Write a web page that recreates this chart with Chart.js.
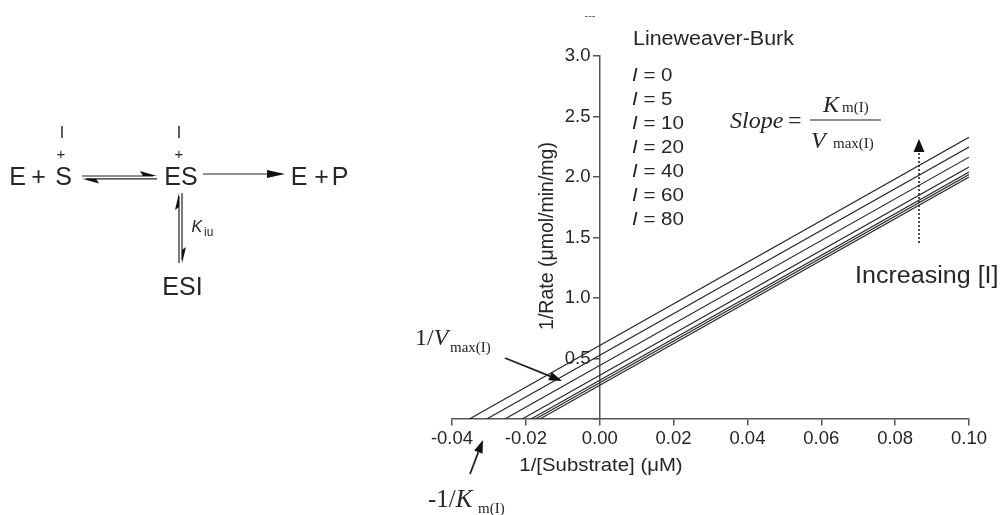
<!DOCTYPE html>
<html>
<head>
<meta charset="utf-8">
<script src="https://cdn.jsdelivr.net/npm/chart.js@4"></script>
<style>
html,body{margin:0;padding:0;background:#fff;}
#wrap{width:1004px;height:515px;position:relative;}
</style>
</head>
<body>
<div id="wrap"><canvas id="c" width="1004" height="515"></canvas></div>
<script>
// ---- data ----
const inhibitorConc = [0, 5, 10, 20, 40, 60, 80];
const xIntercepts = [-0.0162, -0.0174, -0.0186, -0.0210, -0.0257, -0.0306, -0.0353];
const xEnd = 0.10;
const yAtEnd = [2.000, 2.021, 2.041, 2.082, 2.164, 2.247, 2.329];
const xTicks = [-0.04, -0.02, 0.00, 0.02, 0.04, 0.06, 0.08, 0.10];
const yTicks = [0.5, 1.0, 1.5, 2.0, 2.5, 3.0];

const TXT = '#262626';
const AXIS = '#555';
const SANS = '"Liberation Sans", Arial, Helvetica, sans-serif';
const SERIF = '"Liberation Serif", "Times New Roman", serif';

function txt(ctx, s, x, y, font, o) {
  o = o || {};
  ctx.save();
  ctx.font = font;
  ctx.fillStyle = o.color || TXT;
  ctx.textBaseline = o.baseline || 'alphabetic';
  ctx.textAlign = o.align || 'left';
  ctx.translate(x, y);
  if (o.rot) ctx.rotate(o.rot);
  const sx = o.sx || 1;
  ctx.scale(sx, 1);
  ctx.fillText(s, 0, 0);
  const w = ctx.measureText(s).width * sx;
  ctx.restore();
  return w;
}
function line(ctx, x1, y1, x2, y2, w, dash) {
  ctx.save();
  ctx.strokeStyle = '#222';
  ctx.lineWidth = w || 1.2;
  if (dash) ctx.setLineDash(dash);
  ctx.beginPath(); ctx.moveTo(x1, y1); ctx.lineTo(x2, y2); ctx.stroke();
  ctx.restore();
}
function poly(ctx, pts) {
  ctx.save();
  ctx.fillStyle = '#111';
  ctx.beginPath();
  ctx.moveTo(pts[0][0], pts[0][1]);
  for (let i = 1; i < pts.length; i++) ctx.lineTo(pts[i][0], pts[i][1]);
  ctx.closePath(); ctx.fill();
  ctx.restore();
}
function arrow(ctx, x1, y1, x2, y2, hl, hw, w) {
  const a = Math.atan2(y2 - y1, x2 - x1);
  const bx = x2 - hl * Math.cos(a), by = y2 - hl * Math.sin(a);
  line(ctx, x1, y1, bx, by, w || 1.6);
  const px = -Math.sin(a) * hw, py = Math.cos(a) * hw;
  poly(ctx, [[x2, y2], [bx + px, by + py], [bx - px, by - py]]);
}

const annotations = {
  id: 'annotations',
  afterDraw(chart) {
    const ctx = chart.ctx;
    // ---- left reaction scheme ----
    const F25 = '25px ' + SANS;
    txt(ctx, 'E', 17.5, 185, F25, {align: 'center'});
    txt(ctx, '+', 38.5, 185, F25, {align: 'center'});
    txt(ctx, 'S', 63.5, 185, F25, {align: 'center'});
    txt(ctx, 'ES', 181, 185, F25, {align: 'center'});
    txt(ctx, 'E', 299, 185, F25, {align: 'center'});
    txt(ctx, '+', 321.5, 185, F25, {align: 'center'});
    txt(ctx, 'P', 340, 185, F25, {align: 'center'});
    txt(ctx, 'ESI', 182.5, 295, F25, {align: 'center'});
    const F16 = '16px ' + SANS;
    txt(ctx, 'I', 62, 138, F16, {align: 'center'});
    txt(ctx, '+', 61, 159, '15px ' + SANS, {align: 'center'});
    txt(ctx, 'I', 179, 138, F16, {align: 'center'});
    txt(ctx, '+', 179, 159, '15px ' + SANS, {align: 'center'});
    txt(ctx, 'K', 191.5, 232, 'italic 16px ' + SANS);
    txt(ctx, 'iu', 204, 235.5, '12px ' + SANS);
    // equilibrium S <-> ES
    line(ctx, 82, 176, 153, 176, 1.2);
    poly(ctx, [[157, 176], [140, 171], [143, 176]]);
    line(ctx, 86, 178.8, 157, 178.8, 1.2);
    poly(ctx, [[82, 178.8], [99, 183.6], [96, 178.8]]);
    // ES -> E + P
    arrow(ctx, 203, 174, 285, 174, 18, 4, 1.2);
    // ES <-> ESI
    line(ctx, 179, 196, 179, 263, 1.2);
    poly(ctx, [[179, 193], [175, 210], [179, 207]]);
    line(ctx, 182, 193, 182, 260, 1.2);
    poly(ctx, [[182, 263.5], [186, 247], [182, 250]]);

    // ---- chart annotations ----
    txt(ctx, '---', 590, 19, '11px ' + SANS, {align: 'center', color: '#555'});
    txt(ctx, 'Lineweaver-Burk', 633, 40, '19.5px ' + SANS, {baseline: 'middle', sx: 1.1});
    inhibitorConc.forEach((c, i) => {
      const y = 76 + 23.9 * i;
      const w = txt(ctx, 'I', 632, y, 'italic 19px ' + SANS, {baseline: 'middle', sx: 1.08});
      txt(ctx, ' = ' + c, 632 + w, y, '19px ' + SANS, {baseline: 'middle', sx: 1.08});
    });
    // slope formula
    txt(ctx, 'Slope', 730, 127.5, 'italic 24px ' + SERIF);
    txt(ctx, '=', 788, 127.5, '24px ' + SERIF);
    line(ctx, 810, 120, 881, 120, 1.2);
    txt(ctx, 'K', 823, 111.5, 'italic 24px ' + SERIF);
    txt(ctx, 'm(I)', 842, 111.5, '15px ' + SERIF);
    txt(ctx, 'V', 811, 147.5, 'italic 24px ' + SERIF);
    txt(ctx, 'max(I)', 833, 147.5, '15px ' + SERIF);
    // increasing arrow
    line(ctx, 919, 243, 919, 150, 1.6, [2, 2]);
    poly(ctx, [[919, 139], [913.5, 152], [924.5, 152]]);
    txt(ctx, 'Increasing [I]', 855, 277, '23px ' + SANS, {baseline: 'middle', sx: 1.09});
    // 1/Vmax label
    let w = txt(ctx, '1/', 415, 345, '24px ' + SERIF);
    txt(ctx, 'V', 415 + w, 345, 'italic 24px ' + SERIF);
    txt(ctx, 'max(I)', 450, 352, '15px ' + SERIF);
    arrow(ctx, 505, 358, 562, 381, 13, 4.5, 1.8);
    // -1/Km label
    w = txt(ctx, '-1/', 428, 507, '25px ' + SERIF);
    txt(ctx, 'K', 428 + w, 507, 'italic 25px ' + SERIF);
    txt(ctx, 'm(I)', 478, 513, '15px ' + SERIF);
    arrow(ctx, 470, 474, 483, 440, 13, 4.5, 1.8);
    // axis titles
    txt(ctx, '1/[Substrate] (\u03bcM)', 601, 466, '18.5px ' + SANS, {align: 'center', baseline: 'middle', sx: 1.1});
    txt(ctx, '1/Rate (\u03bcmol/min/mg)', 548, 236, '19.5px ' + SANS, {align: 'center', baseline: 'middle', rot: -Math.PI / 2});
  }
};

const datasets = inhibitorConc.map((c, i) => ({
  label: 'I = ' + c,
  data: [{x: xIntercepts[i], y: 0}, {x: xEnd, y: yAtEnd[i]}],
  showLine: true,
  borderColor: '#2a2a2a',
  borderWidth: 1.2,
  pointRadius: 0,
  fill: false
}));

new Chart(document.getElementById('c'), {
  type: 'scatter',
  data: {datasets},
  options: {
    responsive: false,
    animation: false,
    devicePixelRatio: 1,
    layout: {padding: {left: 452, right: 35, top: 56, bottom: 96}},
    plugins: {legend: {display: false}, tooltip: {enabled: false}},
    scales: {
      x: {
        type: 'linear', min: xTicks[0], max: xTicks[xTicks.length - 1],
        position: {y: 0},
        afterBuildTicks: s => { s.ticks = xTicks.map(v => ({value: v})); },
        ticks: {callback: v => Number(v).toFixed(2), color: TXT, font: {family: SANS, size: 18.5}, padding: 3, maxRotation: 0, autoSkip: false},
        grid: {drawOnChartArea: false, drawTicks: true, tickLength: 6, color: AXIS, lineWidth: 1.5},
        border: {display: true, color: AXIS, width: 1.5}
      },
      y: {
        type: 'linear', min: 0, max: yTicks[yTicks.length - 1],
        position: {x: 0},
        afterBuildTicks: s => { s.ticks = [0].concat(yTicks).map(v => ({value: v})); },
        // object-positioned y axis draws labels flush with the axis; the en space keeps them clear of the tick marks
        ticks: {callback: v => (v === 0 ? '' : Number(v).toFixed(1) + '\u2002'), color: TXT, font: {family: SANS, size: 18.5}, padding: 2, autoSkip: false},
        grid: {drawOnChartArea: false, drawTicks: true, tickLength: 6, color: AXIS, lineWidth: 1.5},
        border: {display: true, color: AXIS, width: 1.5}
      }
    }
  },
  plugins: [annotations]
});
</script>
</body>
</html>
